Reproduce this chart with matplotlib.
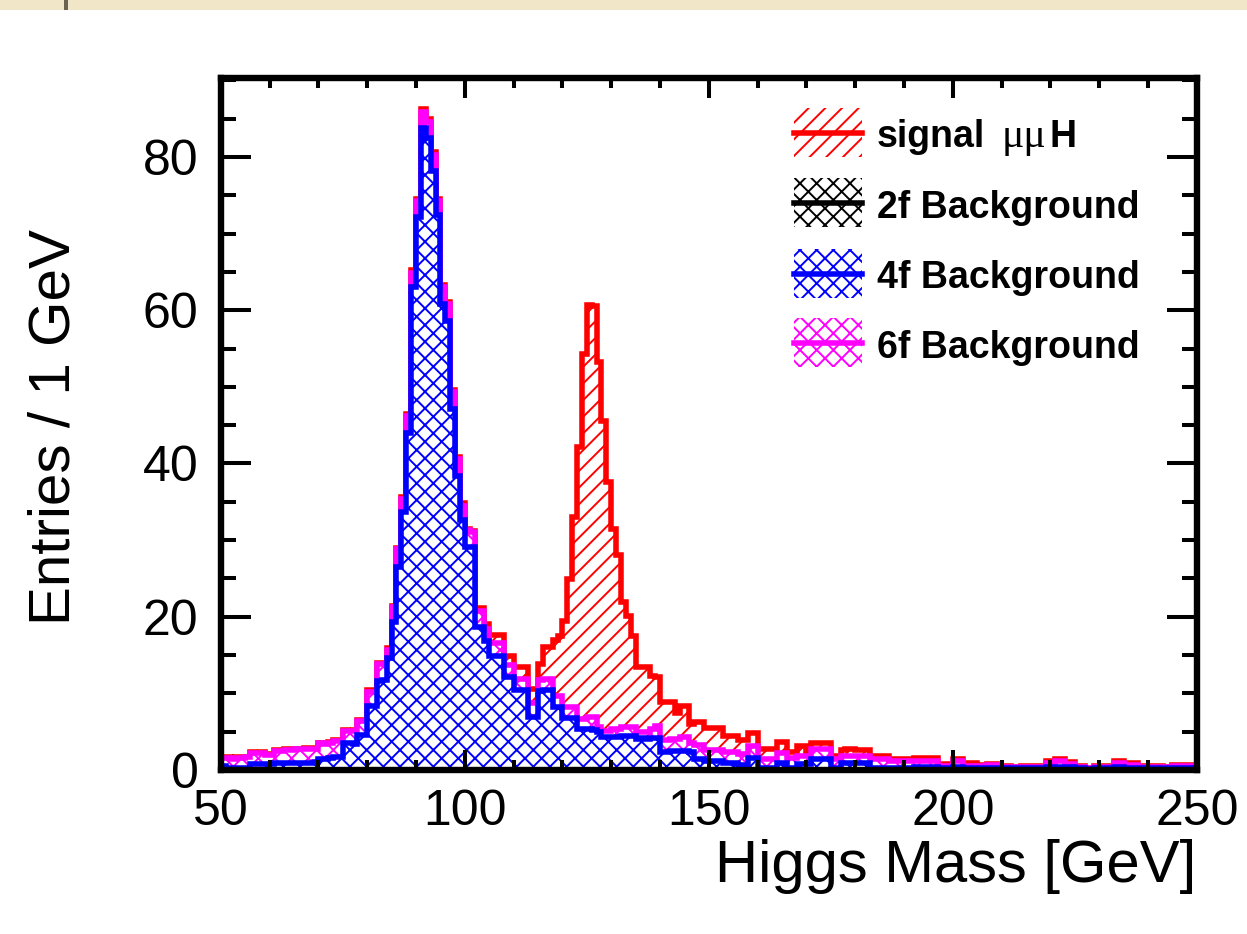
import numpy as np
import matplotlib
matplotlib.use("Agg")
import matplotlib.pyplot as plt
from matplotlib.patches import Rectangle
from matplotlib.lines import Line2D
from matplotlib.ticker import MultipleLocator

plt.rcParams['font.family'] = ['Liberation Sans', 'DejaVu Sans']
plt.rcParams['hatch.linewidth'] = 1.4

# 1 GeV bins, 50 .. 250
edges = np.arange(50, 251, 1)

bg2f = [0.0] * 200

bg4f = [
    0.55, 0.2, 0.2, 0.2, 0.2, 0.3, 0.75, 0.75, 0.75, 0.8,          # 50
    0.8, 0.9, 0.9, 0.9, 0.9, 0.9, 0.9, 0.95, 0.9, 1.0,             # 60
    1.5, 1.5, 1.55, 1.65, 1.65, 3.5, 3.5, 3.45, 4.55, 4.55,        # 70
    8.3, 8.3, 11.6, 11.7, 14.6, 19.3, 26.5, 33.65, 44.0, 63.0,     # 80
    72.2, 83.8, 82.5, 78.2, 72.4, 60.8, 58.6, 47.1, 38.4, 32.6,    # 90
    29.1, 29.1, 18.7, 18.7, 16.8, 14.9, 14.9, 14.9, 12.1, 12.1,    # 100
    10.5, 10.5, 10.5, 6.9, 6.9, 10.3, 10.5, 10.5, 8.2, 8.2,        # 110
    6.8, 6.8, 6.8, 5.3, 5.3, 5.3, 5.2, 5.0, 4.3, 4.3,              # 120
    4.3, 4.3, 4.4, 4.4, 4.4, 4.1, 4.2, 4.1, 4.2, 4.2,              # 130
    2.3, 2.3, 2.5, 2.5, 2.5, 2.5, 2.3, 1.4, 1.4, 1.15,             # 140
    1.15, 1.15, 1.15, 0.92, 0.92, 0.92, 0.68, 0.68, 1.62, 1.62,    # 150
    0.2, 0.2, 0.2, 0.2, 0.92, 0.92, 0.22, 0.22, 0.82, 0.82,        # 160
    0.82, 1.48, 1.48, 1.48, 1.48, 0.22, 0.22, 0.92, 0.92, 0.92,    # 170
    0.92, 0.92, 0.92, 0.22, 0.22, 0.22, 0.22, 0.2, 0.2, 0.2,       # 180
    0.2, 0.2, 0.36, 0.36, 0.36, 0.36, 0.36, 0.2, 0.2, 0.2,         # 190
    0.36, 0.36, 0.2, 0.2, 0.2, 0.2, 0.2, 0.2, 0.2, 0.2,            # 200
    0.2, 0.2, 0.2, 0.2, 0.2, 0.2, 0.2, 0.2, 0.2, 0.36,             # 210
    0.36, 0.36, 0.36, 0.36, 0.36, 0.2, 0.2, 0.15, 0.15, 0.2,       # 220
    0.2, 0.2, 0.2, 0.36, 0.36, 0.2, 0.2, 0.2, 0.2, 0.2,            # 230
    0.2, 0.2, 0.2, 0.2, 0.2, 0.2, 0.2, 0.2, 0.2, 0.2,              # 240
]

bg6f = [
    1.0, 1.4, 1.3, 1.4, 1.4, 1.4, 1.45, 1.45, 1.45, 1.15,          # 50
    1.15, 1.6, 1.6, 1.75, 1.7, 1.8, 1.85, 1.8, 1.9, 1.8,           # 60
    2.0, 1.95, 1.95, 2.1, 2.1, 1.6, 1.6, 1.65, 1.85, 1.9,          # 70
    1.9, 1.9, 2.2, 2.15, 1.1, 1.95, 2.3, 1.75, 2.2, 1.9,           # 80
    2.0, 2.1, 2.1, 2.1, 1.8, 2.2, 2.2, 2.2, 2.2, 1.9,              # 90
    2.2, 1.9, 2.1, 2.1, 1.6, 1.7, 1.7, 1.7, 1.6, 1.6,              # 100
    1.4, 1.4, 1.4, 1.9, 1.9, 1.5, 1.4, 1.4, 1.5, 1.5,              # 110
    1.4, 1.4, 1.4, 1.4, 1.4, 1.6, 1.7, 0.6, 0.8, 0.8,              # 120
    1.0, 1.0, 1.2, 1.2, 1.2, 0.8, 0.7, 0.8, 1.2, 1.6,              # 130
    1.6, 1.6, 1.5, 1.5, 1.8, 1.8, 1.2, 1.8, 1.8, 1.4,              # 140
    1.4, 1.4, 1.4, 1.4, 1.4, 1.4, 1.4, 1.4, 1.54, 1.54,            # 150
    1.18, 1.18, 1.18, 1.18, 1.26, 1.26, 1.4, 1.4, 1.03, 1.03,      # 160
    1.03, 1.21, 1.21, 1.21, 1.21, 1.16, 1.16, 0.93, 0.93, 0.93,    # 170
    0.93, 0.93, 0.93, 1.16, 1.16, 1.16, 1.16, 0.95, 0.95, 0.95,    # 180
    0.95, 0.95, 0.79, 0.79, 0.79, 0.79, 0.79, 0.34, 0.34, 0.34,    # 190
    0.79, 0.79, 0.34, 0.34, 0.34, 0.34, 0.34, 0.48, 0.48, 0.25,    # 200
    0.25, 0.25, 0.15, 0.15, 0.16, 0.16, 0.16, 0.16, 0.16, 0.56,    # 210
    0.56, 0.79, 0.79, 0.46, 0.46, 0.25, 0.25, 0.1, 0.1, 0.25,      # 220
    0.25, 0.25, 0.25, 0.56, 0.56, 0.48, 0.48, 0.48, 0.16, 0.16,    # 230
    0.16, 0.16, 0.16, 0.16, 0.16, 0.34, 0.34, 0.34, 0.34, 0.34,    # 240
]

signal = [
    0.05, 0.05, 0.1, 0.05, 0.1, 0.05, 0.1, 0.05, 0.1, 0.05,        # 50
    0.1, 0.05, 0.1, 0.05, 0.1, 0.05, 0.05, 0.1, 0.05, 0.1,         # 60
    0.05, 0.1, 0.1, 0.15, 0.2, 0.1, 0.05, 0.1, 0.1, 0.1,           # 70
    0.2, 0.15, 0.1, 0.15, 0.2, 0.15, 0.2, 0.2, 0.3, 0.3,           # 80
    0.3, 0.3, 0.3, 0.3, 0.3, 0.3, 0.3, 0.3, 0.3, 0.3,              # 90
    0.2, 0.2, 0.4, 0.4, 0.7, 1.0, 1.0, 1.0, 1.15, 1.15,            # 100
    1.5, 1.5, 1.5, 1.8, 1.8, 2.0, 4.1, 4.1, 7.2, 7.8,              # 110
    11.2, 16.7, 24.8, 35.4, 47.6, 53.8, 53.6, 47.6, 40.5, 32.5,    # 120
    26.2, 22.7, 16.3, 14.5, 11.9, 8.5, 8.5, 8.5, 6.9, 6.3,         # 130
    4.94, 4.94, 4.84, 3.44, 4.08, 4.08, 2.55, 3.08, 3.08, 2.89,    # 140
    2.89, 2.89, 2.89, 2.09, 2.09, 2.09, 1.87, 1.87, 1.72, 1.72,    # 150
    1.4, 1.4, 1.4, 1.4, 1.44, 1.44, 0.79, 0.79, 1.31, 1.31,        # 160
    0.23, 0.79, 0.79, 0.79, 0.79, 0.47, 0.47, 0.7, 0.84, 0.84,     # 170
    0.7, 0.7, 0.7, 0.47, 0.47, 0.47, 0.47, 0.33, 0.33, 0.33,       # 180
    0.33, 0.33, 0.37, 0.37, 0.37, 0.37, 0.37, 0.28, 0.28, 0.28,    # 190
    0.33, 0.33, 0.38, 0.38, 0.38, 0.14, 0.14, 0.14, 0.14, 0.09,    # 200
    0.09, 0.09, 0.1, 0.1, 0.18, 0.18, 0.18, 0.18, 0.18, 0.23,      # 210
    0.23, 0.23, 0.23, 0.19, 0.19, 0.09, 0.09, 0.05, 0.05, 0.09,    # 220
    0.09, 0.09, 0.09, 0.23, 0.23, 0.24, 0.24, 0.24, 0.18, 0.18,    # 230
    0.18, 0.18, 0.18, 0.09, 0.09, 0.14, 0.14, 0.14, 0.14, 0.0,     # 240
]

W, H = 1247, 934
def fx(px):
    return px / W
def fy(py):
    return 1 - py / H

fig = plt.figure(figsize=(W / 100, H / 100), dpi=100)
fig.patch.set_facecolor('white')
# beige strip along the top edge of the screenshot
fig.add_artist(Rectangle((0, fy(10)), 1, 10 / H, transform=fig.transFigure,
                         facecolor='#f1e7c8', edgecolor='none'))
fig.add_artist(Rectangle((fx(64), fy(10)), 4 / W, 10 / H, transform=fig.transFigure,
                         facecolor='#6b6250', edgecolor='none'))

ax = fig.add_axes([fx(220.8), fy(770), (1196.8 - 220.8) / W, (770 - 78) / H])

c2 = np.array(bg2f)
c4 = c2 + np.array(bg4f)
c6 = c4 + np.array(bg6f)
ctot = c6 + np.array(signal)

layers = [
    (ctot, 'red', '//'),
    (c6, 'magenta', 'xx'),
    (c4, 'blue', 'xx'),
    (c2, 'black', 'xx'),
]
z = 1.0
for vals, col, hat in layers:
    ax.stairs(vals, edges, fill=True, facecolor='white', edgecolor=col,
              hatch=hat, linewidth=0, zorder=z)
    ax.stairs(vals, edges, fill=False, color=col, linewidth=4.0, zorder=z + 0.05)
    z += 0.1

ax.set_xlim(50, 250)
ax.set_ylim(0, 90.3)
ax.xaxis.set_major_locator(MultipleLocator(50))
ax.xaxis.set_minor_locator(MultipleLocator(10))
ax.yaxis.set_major_locator(MultipleLocator(20))
ax.yaxis.set_minor_locator(MultipleLocator(5))

for s in ax.spines.values():
    s.set_linewidth(4.6)
ax.tick_params(which='both', direction='in', top=True, right=True, width=2.9,
               labelsize=36)
ax.tick_params(axis='y', which='major', length=21.5, pad=16)
ax.tick_params(axis='y', which='minor', length=10.8)
ax.tick_params(axis='x', which='major', length=14.4, pad=14)
ax.tick_params(axis='x', which='minor', length=7.2)

fig.text(fx(1196), fy(882), 'Higgs Mass [GeV]', fontsize=43, ha='right', va='baseline')
fig.text(fx(70), fy(427), 'Entries / 1 GeV', fontsize=42, rotation=90,
         ha='center', va='baseline', rotation_mode='anchor')

# legend
rows = [
    ('red', '//', 'signal', 147, 108),
    ('black', 'xx', '2f Background', 218, 178),
    ('blue', 'xx', '4f Background', 288, 249),
    ('magenta', 'xx', '6f Background', 358, 318),
]
renderer = fig.canvas.get_renderer()
for col, hat, label, base, top in rows:
    fig.add_artist(Rectangle((fx(794), fy(top + 49)), 68 / W, 49 / H,
                             transform=fig.transFigure, facecolor='white',
                             edgecolor=col, hatch=hat, linewidth=0))
    ym = fy(top + 24.5)
    fig.add_artist(Line2D([fx(794), fx(862)], [ym, ym], transform=fig.transFigure,
                          color=col, linewidth=4.0))
    t = fig.text(fx(877), fy(base), label, fontsize=27, fontweight='bold',
                 va='baseline')
    if label == 'signal':
        bb = t.get_window_extent(renderer)
        t2 = fig.text((bb.x1 + 16) / W, fy(base), '\u03bc\u03bc', fontsize=30,
                      family=['Liberation Serif', 'DejaVu Serif'], va='baseline')
        bb2 = t2.get_window_extent(renderer)
        fig.text((bb2.x1 + 4) / W, fy(base), 'H', fontsize=27, fontweight='bold',
                 va='baseline')

fig.savefig('out.png', dpi=100)
